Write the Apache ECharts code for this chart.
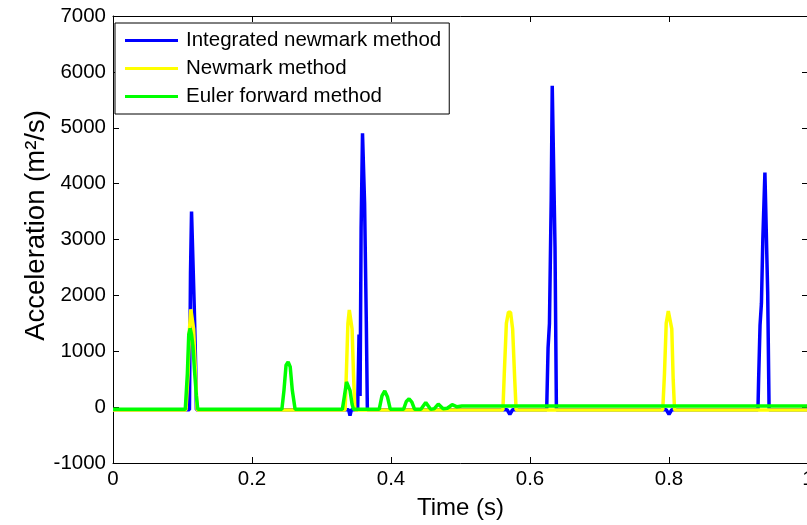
<!DOCTYPE html>
<html>
<head>
<meta charset="utf-8">
<script src="https://cdn.jsdelivr.net/npm/echarts@6/dist/echarts.min.js"></script>
<style>
  html, body { margin: 0; padding: 0; background: #fff; overflow: hidden; }
  #chart { width: 807px; height: 525px; }
</style>
</head>
<body>
<div id="chart"></div>
<script>
// Time (s) / acceleration (m^2/s) samples for each integration scheme
const integratedNewmark = [
  [0, -45], [0.110, -45], [0.1115, 2400], [0.113, 3500], [0.1155, 3500], [0.117, 1750], [0.119, 700], [0.120, -45],
  [0.339, -45], [0.341, -150], [0.343, -45],
  [0.352, -45], [0.354, 1300], [0.3555, 200], [0.357, 3200], [0.359, 4900], [0.3605, 4900], [0.362, 3650], [0.3645, 1500], [0.366, -45],
  [0.567, -45], [0.571, -130], [0.575, -45],
  [0.624, -45], [0.626, 1060], [0.628, 1500], [0.6305, 3700], [0.632, 5750], [0.634, 5750], [0.636, 2850], [0.638, -45],
  [0.796, -45], [0.800, -130], [0.804, -45],
  [0.928, -45], [0.929, 520], [0.931, 1470], [0.933, 1860], [0.935, 3000], [0.938, 4200], [0.940, 4200], [0.942, 2050], [0.944, -45],
  [1, -45]
];

const newmark = [
  [0, -50], [0.105, -50], [0.108, 600], [0.110, 1400], [0.112, 1750], [0.114, 1750], [0.116, 1400], [0.119, 500], [0.121, -50],
  [0.334, -50], [0.336, 700], [0.338, 1500], [0.340, 1740], [0.342, 1740], [0.344, 1400], [0.346, 600], [0.348, -50],
  [0.561, -50], [0.563, 600], [0.566, 1500], [0.569, 1700], [0.572, 1700], [0.575, 1400], [0.578, 500], [0.580, -50],
  [0.791, -50], [0.7935, 600], [0.796, 1500], [0.799, 1720], [0.801, 1720], [0.804, 1400], [0.806, 500], [0.808, -50],
  [1, -50]
];

const eulerForward = [
  [0, -40], [0.104, -40], [0.107, 600], [0.109, 1300], [0.111, 1410], [0.113, 1300], [0.115, 1100], [0.117, 700], [0.120, 200], [0.122, -40],
  [0.243, -40], [0.246, 300], [0.249, 750], [0.252, 810], [0.255, 720], [0.258, 300], [0.262, -40],
  [0.330, -40], [0.333, 200], [0.336, 450], [0.338, 470], [0.341, 300], [0.344, 50], [0.346, -40],
  [0.383, -40], [0.387, 200], [0.391, 290], [0.395, 180], [0.399, -40],
  [0.418, -40], [0.422, 100], [0.426, 150], [0.430, 90], [0.434, -40],
  [0.443, -40], [0.450, 85], [0.457, -40],
  [0.462, -30], [0.468, 55], [0.475, -30],
  [0.481, -20], [0.488, 43], [0.495, 5], [0.502, 20],
  [1, 20]
];

const seriesNames = ['Integrated newmark method', 'Newmark method', 'Euler forward method'];
const seriesColors = ['#0000ff', '#ffff00', '#00ff00'];

const xRange = { min: 0, max: 1, interval: 0.2 };
const yRange = { min: -1000, max: 7000, interval: 1000 };

const FONT = '"Liberation Sans", Arial, Helvetica, sans-serif';

const chart = echarts.init(document.getElementById('chart'), null, { renderer: 'canvas' });

function frameAxis(extra) {
  return Object.assign({
    type: 'value',
    axisLine: { show: true, onZero: false, lineStyle: { color: '#000', width: 1 } },
    axisTick: { show: true, inside: true, length: 6, lineStyle: { color: '#000', width: 1 } },
    axisLabel: { show: false },
    splitLine: { show: false }
  }, extra);
}

chart.setOption({
  animation: false,
  backgroundColor: '#fff',
  // the frame runs one pixel past the right edge of the page, so the grid
  // must not be squeezed to keep the last tick label inside
  grid: {
    left: 113, width: 695, top: 16, height: 447,
    containLabel: false, outerBoundsMode: 'none', show: false
  },
  legend: {
    orient: 'vertical',
    left: 115,
    top: 23,
    data: seriesNames,
    icon: 'rect',
    itemWidth: 53,
    itemHeight: 3,
    itemGap: 7,
    padding: [7, 8, 7, 10],
    backgroundColor: '#fff',
    borderColor: '#000',
    borderWidth: 1,
    borderRadius: 0,
    textStyle: { color: '#000', fontFamily: FONT, fontSize: 20.5, lineHeight: 21, padding: [0, 0, 0, 3] }
  },
  xAxis: [
    frameAxis(Object.assign({
      position: 'bottom',
      name: 'Time (s)',
      nameLocation: 'middle',
      nameGap: 33,
      nameMoveOverlap: false,
      nameTextStyle: { color: '#000', fontFamily: FONT, fontSize: 24 },
      axisLabel: {
        show: true, color: '#000', fontFamily: FONT, fontSize: 20.5, margin: 6,
        formatter: v => String(+v.toFixed(1))
      }
    }, xRange)),
    frameAxis(Object.assign({ position: 'top' }, xRange))
  ],
  yAxis: [
    frameAxis(Object.assign({
      position: 'left',
      name: 'Acceleration (m²/s)',
      nameLocation: 'middle',
      nameGap: 63,
      nameMoveOverlap: false,
      nameTextStyle: { color: '#000', fontFamily: FONT, fontSize: 27.5, padding: [0, 0, 0, 28] },
      axisLabel: {
        show: true, color: '#000', fontFamily: FONT, fontSize: 20.5, margin: 7,
        formatter: v => String(v)
      }
    }, yRange)),
    frameAxis(Object.assign({ position: 'right' }, yRange))
  ],
  series: [integratedNewmark, newmark, eulerForward].map((data, i) => ({
    name: seriesNames[i],
    type: 'line',
    data: data,
    symbol: 'none',
    showSymbol: false,
    color: seriesColors[i],
    lineStyle: { color: seriesColors[i], width: 3.5 },
    itemStyle: { color: seriesColors[i] },
    z: 2 + i
  }))
});
</script>
</body>
</html>
